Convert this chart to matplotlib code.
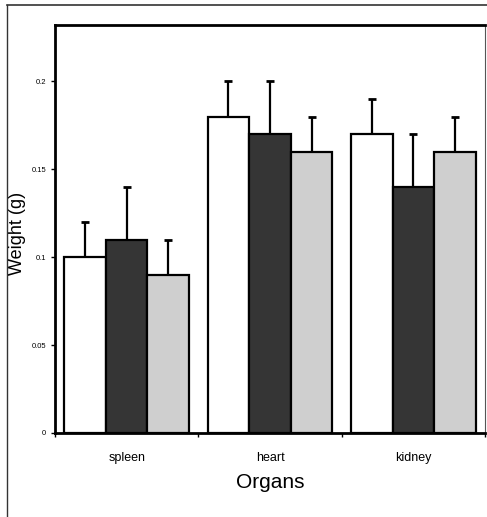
import numpy as np
import matplotlib
matplotlib.use("Agg")
import matplotlib.pyplot as plt
from matplotlib.lines import Line2D

# data
organs = ["spleen", "heart", "kidney"]
group_a = [0.10, 0.18, 0.17]
group_b = [0.11, 0.17, 0.14]
group_c = [0.09, 0.16, 0.16]
err_a = [0.02, 0.02, 0.02]
err_b = [0.03, 0.03, 0.03]
err_c = [0.02, 0.02, 0.02]

y_ticks = [0, 0.05, 0.1, 0.15, 0.2]
y_tick_labels = ["0", "0.05", "0.1", "0.15", "0.2"]

BAR_W = 0.29
COLORS = ["white", "#353535", "#cfcfcf"]

plt.rcParams["font.family"] = ["Liberation Sans", "DejaVu Sans"]

fig = plt.figure(figsize=(4.87, 5.17), dpi=100)
ax = fig.add_axes([0.113, 0.1625, 0.883, 0.789])

x = np.arange(len(organs))
series = [(group_a, err_a), (group_b, err_b), (group_c, err_c)]
for i, (vals, errs) in enumerate(series):
    pos = x + (i - 1) * BAR_W
    ax.bar(pos, vals, BAR_W, color=COLORS[i], edgecolor="black", linewidth=1.6, zorder=2)
    ax.errorbar(pos, vals, yerr=[np.zeros(len(errs)), errs], fmt="none",
                ecolor="black", elinewidth=1.6, capsize=3, capthick=2, zorder=1)

ax.set_xlim(-0.5, 2.5)
ax.set_ylim(0, 0.232)
ax.set_yticks(y_ticks)
ax.set_yticklabels(y_tick_labels, fontsize=5.5)
ax.set_xticks([-0.5, 0.5, 1.5, 2.5])
ax.set_xticklabels([])
for xi, name in zip(x, organs):
    ax.text(xi, -0.011, name, ha="center", va="top", fontsize=9)
ax.tick_params(axis="both", direction="out", length=3, width=1)

ax.set_ylabel("Weight (g)", fontsize=13)
ax.yaxis.set_label_coords(-0.068, 0.49)
ax.text(1, -0.023, "Organs", ha="center", va="top", fontsize=15)

ax.spines["top"].set_linewidth(2)
ax.spines["left"].set_linewidth(2)
ax.spines["bottom"].set_linewidth(2)
ax.spines["right"].set_linewidth(0.8)
ax.spines["right"].set_color("#555555")

# outer frame of the scanned figure (left and top edges)
fig.add_artist(Line2D([0.015, 0.015], [0.0, 0.99], transform=fig.transFigure,
                      color="#333333", linewidth=1))
fig.add_artist(Line2D([0.015, 1.0], [0.99, 0.99], transform=fig.transFigure,
                      color="#333333", linewidth=1.2))

fig.savefig("out.png", dpi=100)
